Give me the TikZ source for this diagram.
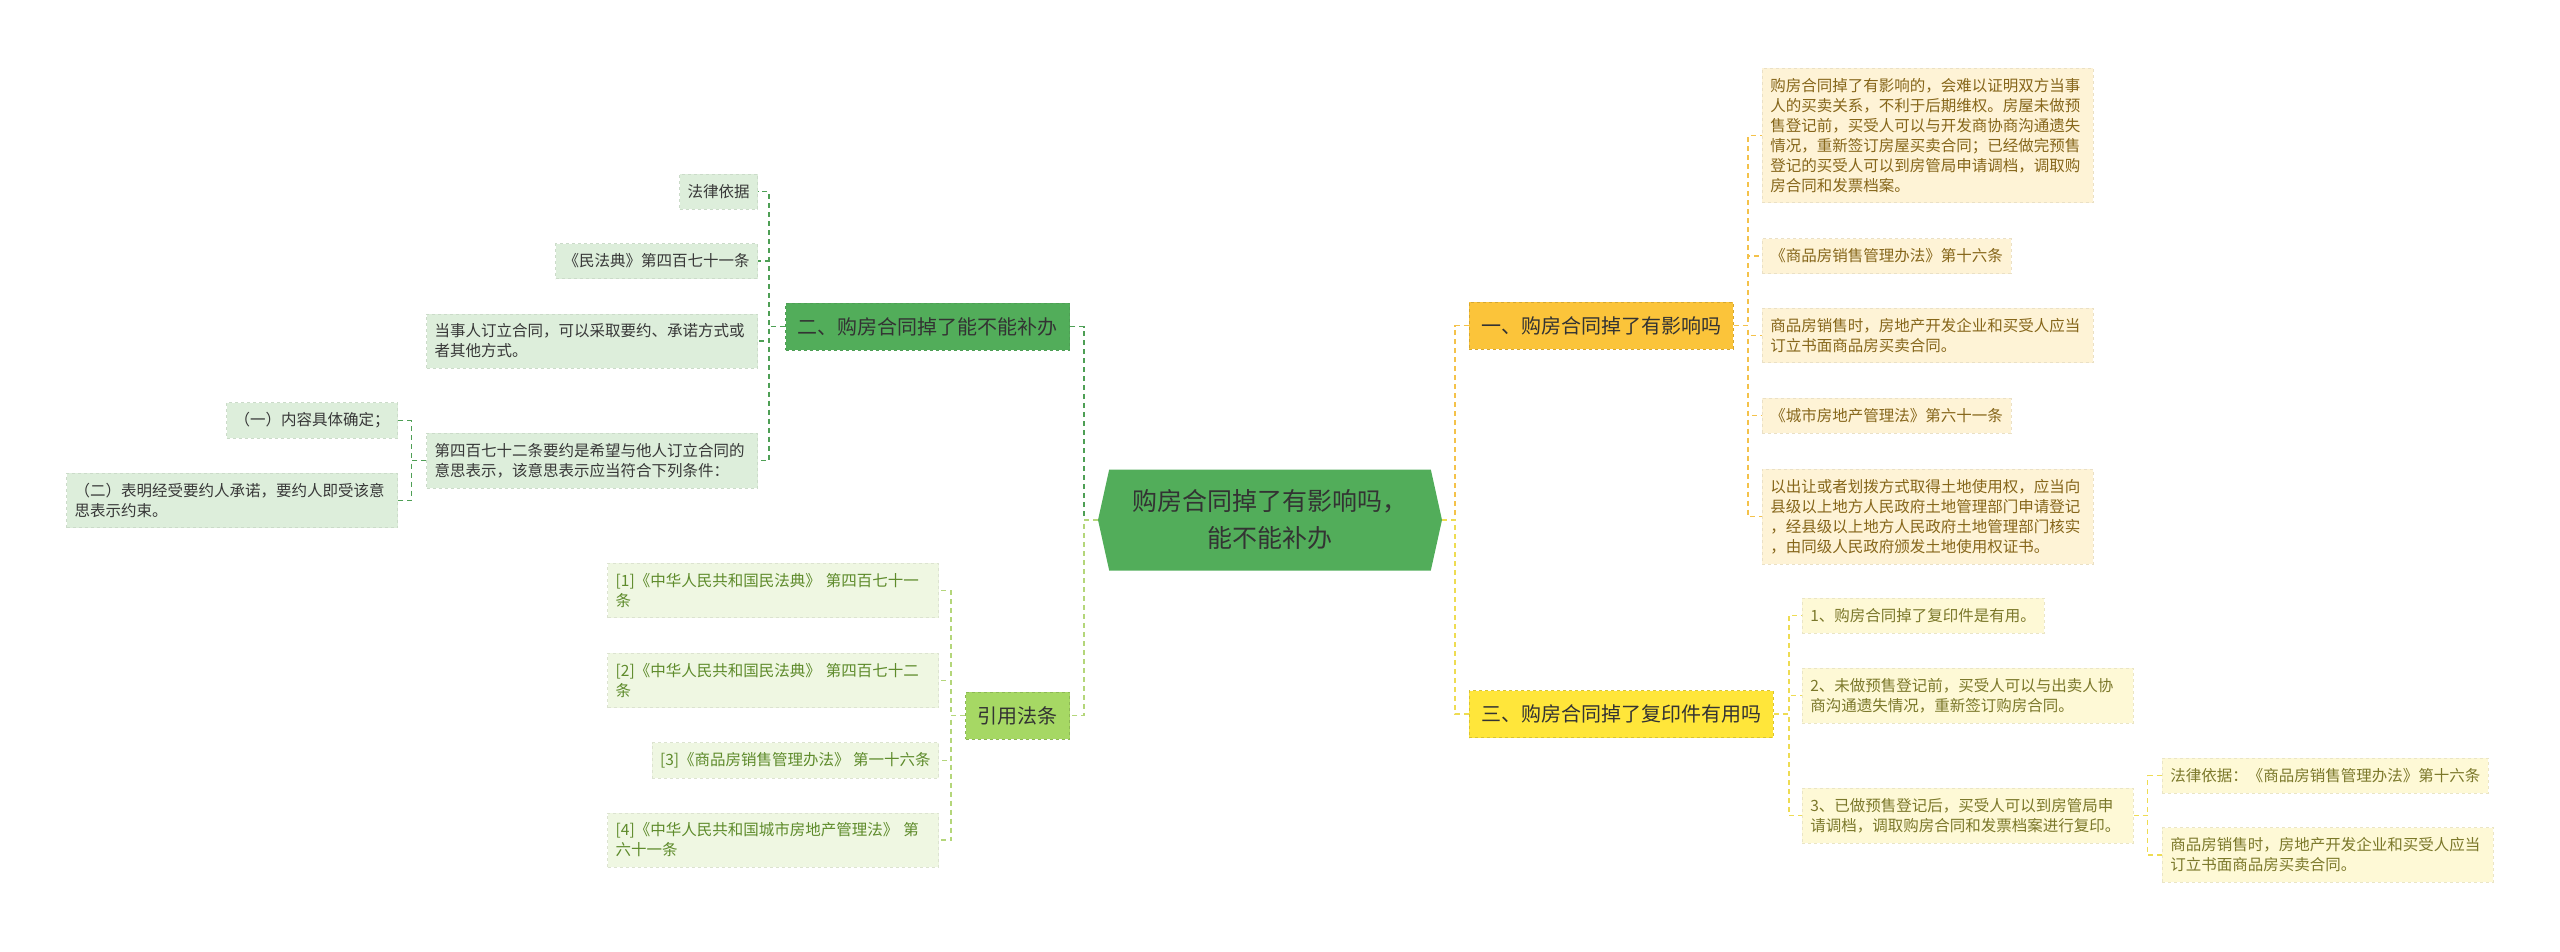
\documentclass[tikz,border=0pt]{standalone}
\usepackage{fontspec}
\setmainfont{Noto Sans CJK SC}
\usetikzlibrary{shapes.symbols}
\definecolor{rootgreen}{HTML}{52AD5A}
\definecolor{deepgreen}{HTML}{4E9F55}
\definecolor{palegreen}{HTML}{DDEEDB}
\definecolor{lime}{HTML}{A6D864}
\definecolor{limeline}{HTML}{B4D67A}
\definecolor{palelime}{HTML}{EFF7E2}
\definecolor{limetext}{HTML}{5E8B2B}
\definecolor{amber}{HTML}{FBC43A}
\definecolor{amberline}{HTML}{F4C24A}
\definecolor{cream}{HTML}{FEF3D6}
\definecolor{creamtext}{HTML}{86661A}
\definecolor{lemon}{HTML}{FFE63A}
\definecolor{lemonline}{HTML}{EEDC52}
\definecolor{palelemon}{HTML}{FEF9D6}
\definecolor{lemontext}{HTML}{7B782A}

\begin{document}
\begin{tikzpicture}[x=1pt,y=-1pt,
  branch/.style={inner xsep=12pt,inner ysep=0pt,minimum height=47pt,font=\fontsize{20}{24}\selectfont,text=black!80,draw,dashed,line width=.8pt},
  leaf/.style={inner xsep=8pt,inner ysep=10pt,minimum height=35pt,align=left,font=\fontsize{15.5}{20}\selectfont,draw,dashed,line width=.6pt},
  wide/.style={text width=315pt},
  gleaf/.style={leaf,fill=palegreen,draw=palegreen!92!black,text=black!78},
  kleaf/.style={leaf,fill=palelime,draw=palelime!92!black,text=limetext},
  oleaf/.style={leaf,fill=cream,draw=cream!92!black,text=creamtext},
  yleaf/.style={leaf,fill=palelemon,draw=palelemon!92!black,text=lemontext},
  link/.style={line width=1.5pt,dash pattern=on 5pt off 4pt}]
\useasboundingbox (0,0) rectangle (2560,951);

\node[signal,signal to=west and east,signal pointer angle=155,fill=rootgreen,minimum width=344pt,minimum height=101pt,inner sep=0pt,
  font=\fontsize{25}{37}\selectfont,align=center,text=black!80] (root) at (1270,520) {购房合同掉了有影响吗，\\能不能补办};

\node[branch,fill=rootgreen,draw=deepgreen,anchor=east] (bian) at (1070,326.5) {二、购房合同掉了能不能补办};
\node[branch,fill=lime,draw=lime!85!black,anchor=east] (yinyong) at (1070,715.5) {引用法条};
\node[branch,fill=amber,draw=amber!85!black,anchor=west] (yingxiang) at (1469,325.5) {一、购房合同掉了有影响吗};
\node[branch,fill=lemon,draw=lemon!85!black,anchor=west] (fuyin) at (1469,714) {三、购房合同掉了复印件有用吗};

\node[gleaf,anchor=east] (yiju) at (758,191.5) {法律依据};
\node[gleaf,anchor=east] (mfd) at (758,261) {《民法典》第四百七十一条};
\node[gleaf,wide,anchor=east] (dingli) at (758,341) {当事人订立合同，可以采取要约、承诺方式或\\者其他方式。};
\node[gleaf,wide,anchor=east] (yaoyue) at (758,460.5) {第四百七十二条要约是希望与他人订立合同的\\意思表示，该意思表示应当符合下列条件：};
\node[gleaf,anchor=east] (tiaojianA) at (398,420.5) {（一）内容具体确定；};
\node[gleaf,wide,anchor=east] (tiaojianB) at (398,500.5) {（二）表明经受要约人承诺，要约人即受该意\\思表示约束。};

\node[kleaf,wide,anchor=east] (fa1) at (939,590.5) {[1]《中华人民共和国民法典》 第四百七十一\\条};
\node[kleaf,wide,anchor=east] (fa2) at (939,680.5) {[2]《中华人民共和国民法典》 第四百七十二\\条};
\node[kleaf,anchor=east] (fa3) at (939,760.5) {[3]《商品房销售管理办法》 第一十六条};
\node[kleaf,wide,anchor=east] (fa4) at (939,840) {[4]《中华人民共和国城市房地产管理法》 第\\六十一条};

\node[oleaf,wide,anchor=west] (ying1) at (1762,135.5) {购房合同掉了有影响的，会难以证明双方当事\\人的买卖关系，不利于后期维权。房屋未做预\\售登记前，买受人可以与开发商协商沟通遗失\\情况，重新签订房屋买卖合同；已经做完预售\\登记的买受人可以到房管局申请调档，调取购\\房合同和发票档案。};
\node[oleaf,anchor=west] (ying2) at (1762,256) {《商品房销售管理办法》第十六条};
\node[oleaf,wide,anchor=west] (ying3) at (1762,335.5) {商品房销售时，房地产开发企业和买受人应当\\订立书面商品房买卖合同。};
\node[oleaf,anchor=west] (ying4) at (1762,415.5) {《城市房地产管理法》第六十一条};
\node[oleaf,wide,anchor=west] (ying5) at (1762,516.5) {以出让或者划拨方式取得土地使用权，应当向\\县级以上地方人民政府土地管理部门申请登记\\，经县级以上地方人民政府土地管理部门核实\\，由同级人民政府颁发土地使用权证书。};

\node[yleaf,anchor=west] (fu1) at (1802,615.5) {1、购房合同掉了复印件是有用。};
\node[yleaf,wide,anchor=west] (fu2) at (1802,695.5) {2、未做预售登记前，买受人可以与出卖人协\\商沟通遗失情况，重新签订购房合同。};
\node[yleaf,wide,anchor=west] (fu3) at (1802,815.5) {3、已做预售登记后，买受人可以到房管局申\\请调档，调取购房合同和发票档案进行复印。};
\node[yleaf,anchor=west] (fu3a) at (2162,775.5) {法律依据：《商品房销售管理办法》第十六条};
\node[yleaf,wide,anchor=west] (fu3b) at (2162,855) {商品房销售时，房地产开发企业和买受人应当\\订立书面商品房买卖合同。};

\draw[link,deepgreen] (root.west) -- ++(-14,0) |- (bian.east);
\draw[link,limeline] (root.west) -- ++(-14,0) |- (yinyong.east);
\draw[link,amberline] (root.east) -- ++(13,0) |- (yingxiang.west);
\draw[link,lemonline] (root.east) -- ++(13,0) |- (fuyin.west);
\draw[link,deepgreen] (bian.west) -- ++(-16,0) |- (yiju.east) (bian.west) -- ++(-16,0) |- (mfd.east)
  (bian.west) -- ++(-16,0) |- (dingli.east) (bian.west) -- ++(-16,0) |- (yaoyue.east);
\draw[link,deepgreen] (yaoyue.west) -- ++(-15,0) |- (tiaojianA.east) (yaoyue.west) -- ++(-15,0) |- (tiaojianB.east);
\draw[link,limeline] (yinyong.west) -- ++(-14,0) |- (fa1.east) (yinyong.west) -- ++(-14,0) |- (fa2.east)
  (yinyong.west) -- ++(-14,0) |- (fa3.east) (yinyong.west) -- ++(-14,0) |- (fa4.east);
\draw[link,amberline] (yingxiang.east) -- ++(14,0) |- (ying1.west) (yingxiang.east) -- ++(14,0) |- (ying2.west)
  (yingxiang.east) -- ++(14,0) |- (ying3.west) (yingxiang.east) -- ++(14,0) |- (ying4.west)
  (yingxiang.east) -- ++(14,0) |- (ying5.west);
\draw[link,lemonline] (fuyin.east) -- ++(15,0) |- (fu1.west) (fuyin.east) -- ++(15,0) |- (fu2.west)
  (fuyin.east) -- ++(15,0) |- (fu3.west);
\draw[link,lemonline] (fu3.east) -- ++(14,0) |- (fu3a.west) (fu3.east) -- ++(14,0) |- (fu3b.west);
\end{tikzpicture}
\end{document}
